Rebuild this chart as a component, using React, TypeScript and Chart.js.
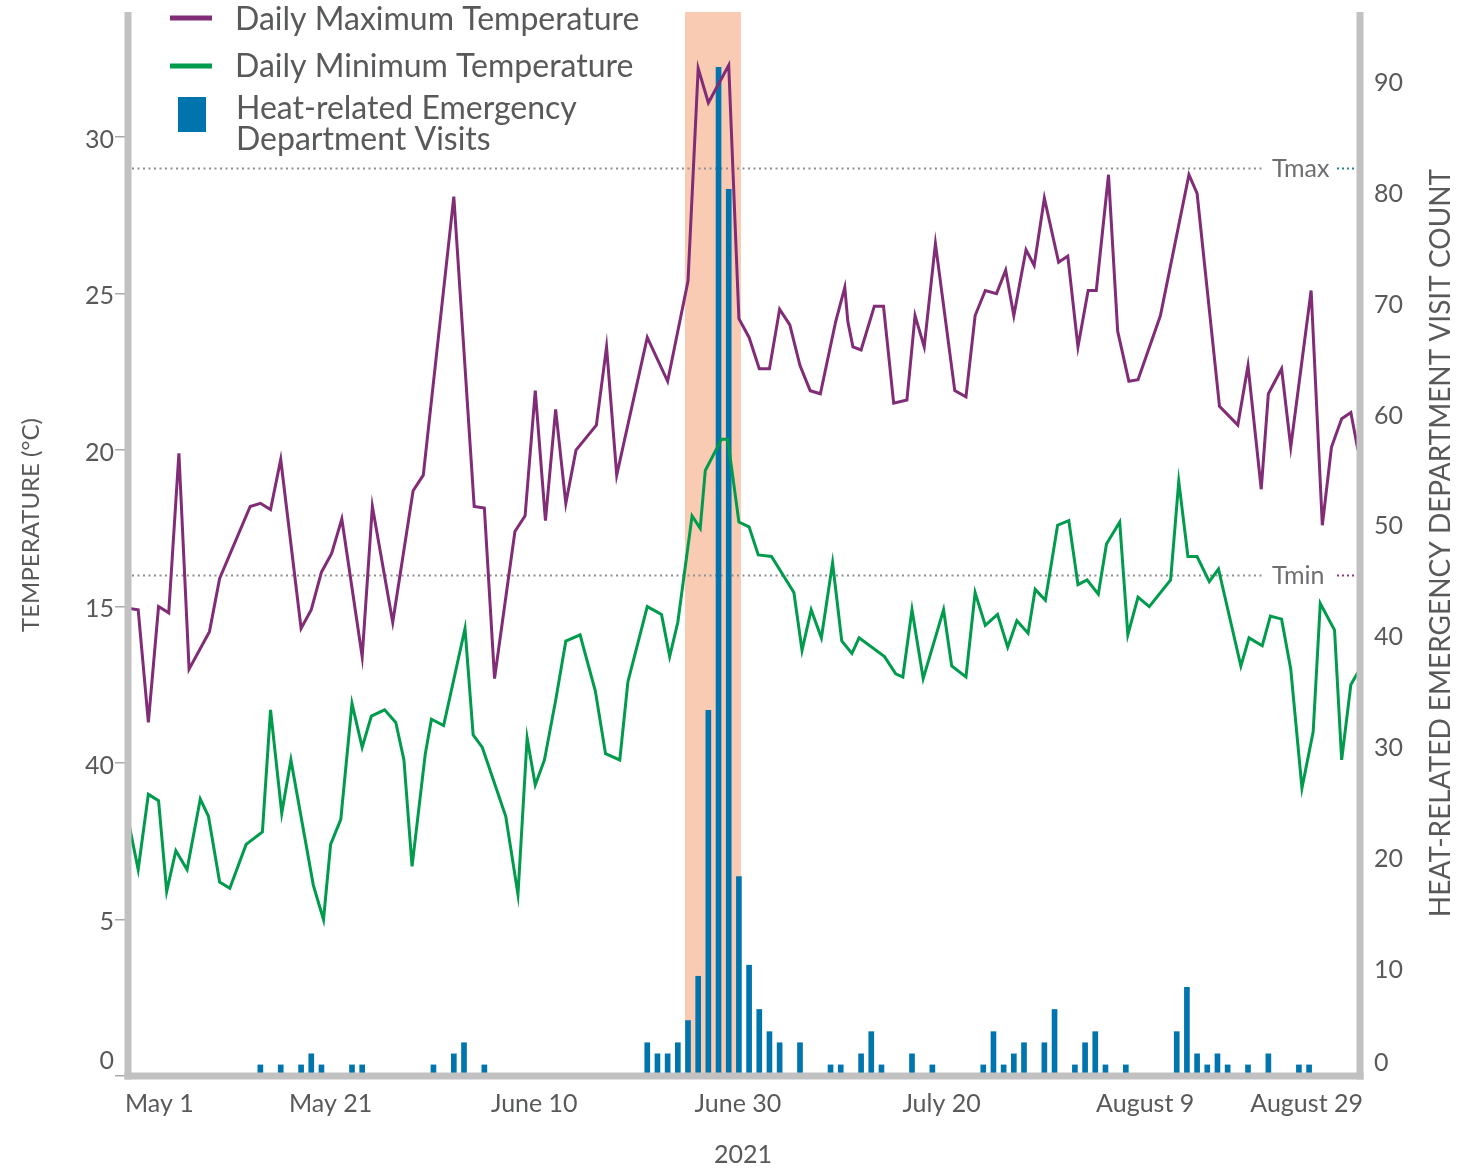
import React, { useEffect, useRef } from 'react';
import { Chart, registerables } from 'chart.js';

Chart.register(...registerables);

// ---- Data (day index from May 1, 2021) ----
const tmaxDays = [0, 1, 2, 3, 4, 5, 6, 8, 9, 12, 13, 14, 15, 17, 18, 19, 20, 21, 23, 24, 26, 28, 29, 32, 34, 35, 36, 38, 39, 40, 41, 42, 43, 44, 46, 47, 48, 51, 53, 55, 56, 57, 59, 60, 61, 62, 63, 64, 65, 66, 67, 68, 69.5, 70.4, 70.7, 71.2, 72, 73.3, 74.2, 75.2, 76.5, 77.3, 78.2, 79.3, 81.2, 82.3, 83.2, 84.2, 85.3, 86.2, 87, 88.2, 89, 90, 91.4, 92.3, 93.3, 94.3, 95.1, 96.3, 97.2, 98.3, 99.2, 101.4, 104.2, 105, 107.2, 109, 110, 111.3, 112, 113.3, 114.2, 116.2, 117.3, 118.2, 119.2, 120.1, 120.8];
const tmaxValues = [14.95, 14.9, 11.3, 15.0, 14.8, 19.9, 13.0, 14.2, 15.9, 18.2, 18.3, 18.1, 19.7, 14.3, 14.9, 16.1, 16.7, 17.8, 13.4, 18.2, 14.5, 18.7, 19.2, 28.1, 18.2, 18.15, 12.7, 17.4, 17.9, 21.9, 17.75, 21.3, 18.3, 20.0, 20.8, 23.3, 19.2, 23.6, 22.2, 25.4, 32.2, 31.1, 32.3, 24.2, 23.6, 22.6, 22.6, 24.5, 24.0, 22.7, 21.9, 21.8, 24.1, 25.2, 24.1, 23.3, 23.2, 24.6, 24.6, 21.5, 21.6, 24.3, 23.3, 26.6, 21.9, 21.7, 24.3, 25.1, 25.0, 25.75, 24.3, 26.4, 25.9, 28.05, 26.0, 26.2, 23.3, 25.1, 25.1, 28.8, 23.8, 22.2, 22.25, 24.3, 28.8, 28.2, 21.4, 20.8, 22.7, 18.75, 21.8, 22.6, 20.1, 25.1, 17.6, 20.1, 21.0, 21.2, 20.0];

const tminDays = [0, 1, 2, 3, 3.8, 4.7, 5.8, 7.1, 7.9, 9, 10, 11.6, 13.2, 14, 15.1, 16, 18.2, 19.2, 19.9, 20.9, 22, 23, 23.9, 25.2, 26.3, 27.1, 27.9, 29.2, 29.8, 31, 33.1, 33.9, 34.8, 37.1, 38.3, 39.2, 40, 40.9, 42, 43, 44.4, 45.9, 46.9, 48.3, 49.1, 51, 52.4, 53.2, 54, 55.4, 56.2, 56.7, 58.3, 58.9, 60, 61, 61.9, 63.2, 65.4, 66.2, 67.1, 68.1, 69.2, 70.1, 71.1, 71.8, 74.3, 75.4, 76.1, 77, 78.1, 80.1, 80.9, 82.3, 83.2, 84.2, 85.4, 86.4, 87.3, 88.4, 89.1, 90.1, 91.3, 92.4, 93.3, 94.2, 95.3, 96.1, 97.4, 98.2, 99.2, 100.3, 102.4, 103.2, 104.1, 105, 106.2, 107.1, 109.3, 110.1, 111.4, 112.2, 113.3, 114.2, 115.3, 116.4, 117.1, 118.5, 119.2, 120.1, 120.8];
const tminValues = [8.2, 6.6, 9.0, 8.8, 5.9, 7.2, 6.6, 8.85, 8.3, 6.2, 6.0, 7.4, 7.8, 11.7, 8.4, 10.1, 6.1, 5.0, 7.4, 8.2, 11.9, 10.5, 11.5, 11.7, 11.3, 10.1, 6.7, 10.3, 11.4, 11.2, 14.3, 10.9, 10.5, 8.3, 5.8, 10.8, 9.3, 10.1, 12.0, 13.9, 14.1, 12.3, 10.3, 10.1, 12.6, 15.0, 14.75, 13.4, 14.5, 17.9, 17.5, 19.35, 20.35, 20.35, 17.7, 17.55, 16.65, 16.6, 15.45, 13.6, 14.9, 14.0, 16.4, 13.9, 13.5, 14.0, 13.4, 12.85, 12.75, 14.9, 12.7, 14.9, 13.1, 12.75, 15.45, 14.4, 14.75, 13.7, 14.55, 14.15, 15.55, 15.2, 17.6, 17.75, 15.7, 15.85, 15.4, 17.0, 17.7, 14.1, 15.3, 15.0, 15.85, 19.0, 16.6, 16.6, 15.8, 16.2, 13.1, 14.0, 13.75, 14.7, 14.6, 13.0, 9.2, 11.0, 15.1, 14.25, 10.1, 12.5, 12.9];

const visitDays = [13, 15, 17, 18, 19, 22, 23, 30, 32, 33, 35, 51, 52, 53, 54, 55, 56, 57, 58, 59, 60, 61, 62, 63, 64, 66, 69, 70, 72, 73, 74, 77, 79, 84, 85, 86, 87, 88, 90, 91, 93, 94, 95, 96, 98, 103, 104, 105, 106, 107, 108, 110, 112, 115, 116];
const visitCounts = [1, 1, 1, 2, 1, 1, 1, 1, 2, 3, 1, 3, 2, 2, 3, 5, 9, 33, 91, 80, 18, 10, 6, 4, 3, 3, 1, 1, 2, 4, 1, 2, 1, 1, 4, 1, 2, 3, 3, 6, 1, 3, 4, 1, 1, 4, 8, 2, 1, 2, 1, 1, 2, 1, 1];

const leftTickValues = [0, 5, 10, 15, 20, 25, 30];
const leftTickLabels = ['0', '5', '40', '15', '20', '25', '30'];
const rightTickValues = [0, 10, 20, 30, 40, 50, 60, 70, 80, 90];
const xTickDays = [0, 20, 40, 60, 80, 100, 120];
const xTickLabels = ['May 1', 'May 21', 'June 10', 'June 30', 'July 20', 'August 9', 'August 29'];
const xTitle = '2021';
const heatDomeStart = 54.7;
const heatDomeEnd = 60.2;
const thresholdValues = [29, 16];
const thresholdLabels = ['Tmax', 'Tmin'];

// ---- Styles ----
const PURPLE = '#802c76';
const GREEN = '#009b4c';
const BLUE = '#0074ad';
const BAND = '#f9cbb3';
const AXIS_GRAY = '#c1c1c2';
const TEXT = '#58595b';
const FONT = 'Lato';
const thresholdEndColors = ['#2c7d8f', '#8a3a80'];

// Multi-line label trick to nudge tick labels vertically (lines of `step` px).
const nudge = (text: string, down: boolean, upLines: number) => {
  if (down) return ['', text];
  const arr = [text];
  for (let k = 1; k < upLines; k++) arr.push('');
  return arr;
};

const overlayPlugin = {
  id: 'overlay',
  beforeDatasetsDraw(chart: any) {
    const { ctx, chartArea: a, scales } = chart;
    const xs = scales.x;
    const ys = scales.y;
    ctx.save();
    const x1 = xs.getPixelForValue(heatDomeStart);
    const x2 = xs.getPixelForValue(heatDomeEnd);
    ctx.fillStyle = BAND;
    ctx.fillRect(x1, a.top, x2 - x1, a.bottom - a.top);

    thresholdValues.forEach((t, i) => {
      const py = Math.round(ys.getPixelForValue(t)) + 0.5;
      ctx.lineWidth = 2;
      ctx.setLineDash([2, 3.5]);
      ctx.strokeStyle = '#8e8e90';
      ctx.beginPath();
      ctx.moveTo(a.left + 4, py);
      ctx.lineTo(a.right - 95, py);
      ctx.stroke();
      ctx.setLineDash([]);
      ctx.fillStyle = '#6d6e71';
      ctx.font = `25px ${FONT}`;
      ctx.textAlign = 'left';
      ctx.textBaseline = 'middle';
      ctx.fillText(thresholdLabels[i], a.right - 88, py);
      ctx.setLineDash([2, 3]);
      ctx.strokeStyle = thresholdEndColors[i];
      ctx.beginPath();
      ctx.moveTo(a.right - 23, py);
      ctx.lineTo(a.right - 3, py);
      ctx.stroke();
    });
    ctx.restore();
  },
  afterDatasetsDraw(chart: any) {
    const { ctx, chartArea: a } = chart;
    ctx.save();
    ctx.fillStyle = AXIS_GRAY;
    const w = 7;
    ctx.fillRect(a.left - w / 2, a.top, w, a.bottom - a.top + w / 2);
    ctx.fillRect(a.right - w / 2, a.top, w, a.bottom - a.top + w / 2);
    ctx.fillRect(a.left - w / 2, a.bottom - w / 2, a.right - a.left + w, w);
    ctx.restore();
  },
  afterDraw(chart: any) {
    const { ctx, chartArea: a, scales } = chart;
    const xs = scales.x;
    ctx.save();
    ctx.fillStyle = TEXT;
    // x tick labels (inner alignment)
    ctx.font = `25px ${FONT}`;
    ctx.textBaseline = 'middle';
    xTickDays.forEach((d, i) => {
      const px = xs.getPixelForValue(d);
      if (i === 0) {
        ctx.textAlign = 'left';
        ctx.fillText(xTickLabels[i], a.left - 3, 1104);
      } else if (i === xTickDays.length - 1) {
        ctx.textAlign = 'right';
        ctx.fillText(xTickLabels[i], a.right + 3, 1104);
      } else {
        ctx.textAlign = 'center';
        ctx.fillText(xTickLabels[i], px - 1, 1104);
      }
    });
    // x title
    ctx.textAlign = 'center';
    ctx.fillText(xTitle, (a.left + a.right) / 2 - 1, 1155);

    // y titles
    ctx.save();
    ctx.font = `24px ${FONT}`;
    ctx.translate(31, 525);
    ctx.rotate(-Math.PI / 2);
    ctx.textAlign = 'center';
    ctx.fillText('TEMPERATURE (\u00B0C)', 0, 0);
    ctx.restore();
    ctx.save();
    ctx.font = `28px ${FONT}`;
    ctx.translate(1441, 543);
    ctx.rotate(-Math.PI / 2);
    ctx.textAlign = 'center';
    ctx.fillText('HEAT-RELATED EMERGENCY DEPARTMENT VISIT COUNT', 0, 0);
    ctx.restore();

    // legend
    ctx.fillStyle = PURPLE;
    ctx.fillRect(170, 15.5, 42, 5);
    ctx.fillStyle = GREEN;
    ctx.fillRect(170, 63.5, 42, 5);
    ctx.fillStyle = BLUE;
    ctx.fillRect(178, 97, 28, 35);
    ctx.fillStyle = TEXT;
    ctx.font = `32px ${FONT}`;
    ctx.textAlign = 'left';
    ctx.textBaseline = 'middle';
    ctx.fillText('Daily Maximum Temperature', 235, 20);
    ctx.fillText('Daily Minimum Temperature', 235, 67);
    ctx.fillText('Heat-related Emergency', 236, 109);
    ctx.fillText('Department Visits', 236, 140);
    ctx.restore();
  },
};

export default function App() {
  const canvasRef = useRef<HTMLCanvasElement | null>(null);

  useEffect(() => {
    const canvas = canvasRef.current;
    if (!canvas) return;
    const zeroPad = (s: any) => {
      s.paddingTop = 0;
      s.paddingBottom = 0;
    };
    const chart = new Chart(canvas, {
      type: 'line',
      data: {
        datasets: [
          {
            type: 'line',
            label: 'Daily Maximum Temperature',
            data: tmaxDays.map((d, i) => ({ x: d, y: tmaxValues[i] })),
            borderColor: PURPLE,
            borderWidth: 3,
            pointRadius: 0,
            tension: 0,
            yAxisID: 'y',
            order: 1,
          },
          {
            type: 'line',
            label: 'Daily Minimum Temperature',
            data: tminDays.map((d, i) => ({ x: d, y: tminValues[i] })),
            borderColor: GREEN,
            borderWidth: 3,
            pointRadius: 0,
            tension: 0,
            yAxisID: 'y',
            order: 1,
          },
          {
            type: 'bar',
            label: 'Heat-related Emergency Department Visits',
            data: visitDays.map((d, i) => ({ x: d, y: visitCounts[i] })),
            backgroundColor: BLUE,
            barThickness: 5,
            yAxisID: 'y1',
            order: 2,
          } as any,
        ],
      },
      options: {
        animation: false,
        responsive: false,
        devicePixelRatio: 1,
        layout: { padding: { top: 12, bottom: 92, left: 0, right: 0 } },
        plugins: { legend: { display: false }, tooltip: { enabled: false } },
        scales: {
          x: {
            type: 'linear',
            min: 0,
            max: 121,
            offset: false,
            display: false,
          },
          y: {
            type: 'linear',
            position: 'left',
            min: 0,
            max: 34,
            afterBuildTicks: (s: any) => {
              s.ticks = leftTickValues.map((v) => ({ value: v }));
            },
            afterFit: (s: any) => {
              s.width = 128;
              zeroPad(s);
            },
            ticks: {
              color: TEXT,
              font: { family: FONT, size: 25, lineHeight: '5px' },
              padding: 1,
              callback: (v: any) => {
                const i = leftTickValues.indexOf(Number(v));
                if (i < 0) return '';
                return v === 0 ? nudge(leftTickLabels[i], false, 7) : nudge(leftTickLabels[i], true, 0);
              },
            },
            grid: {
              display: true,
              drawOnChartArea: false,
              drawTicks: true,
              tickLength: 13,
              color: '#a7a9ac',
              lineWidth: 1.5,
            },
            border: { display: false },
          },
          y1: {
            type: 'linear',
            position: 'right',
            min: 0,
            max: 96,
            afterBuildTicks: (s: any) => {
              s.ticks = rightTickValues.map((v) => ({ value: v }));
            },
            afterFit: (s: any) => {
              s.width = 101;
              zeroPad(s);
            },
            ticks: {
              color: TEXT,
              font: { family: FONT, size: 25, lineHeight: '9px' },
              padding: 14,
              callback: (v: any) => (v === 0 ? nudge('0', false, 4) : nudge(String(v), true, 0)),
            },
            grid: { display: false, drawTicks: false },
            border: { display: false },
          },
        },
      },
      plugins: [overlayPlugin],
    } as any);
    return () => chart.destroy();
  }, []);

  return (
    <div style={{ position: 'fixed', left: 0, top: 0, width: 1461, height: 1168, background: '#fff' }}>
      <canvas ref={canvasRef} width={1461} height={1168} style={{ display: 'block' }} />
    </div>
  );
}
